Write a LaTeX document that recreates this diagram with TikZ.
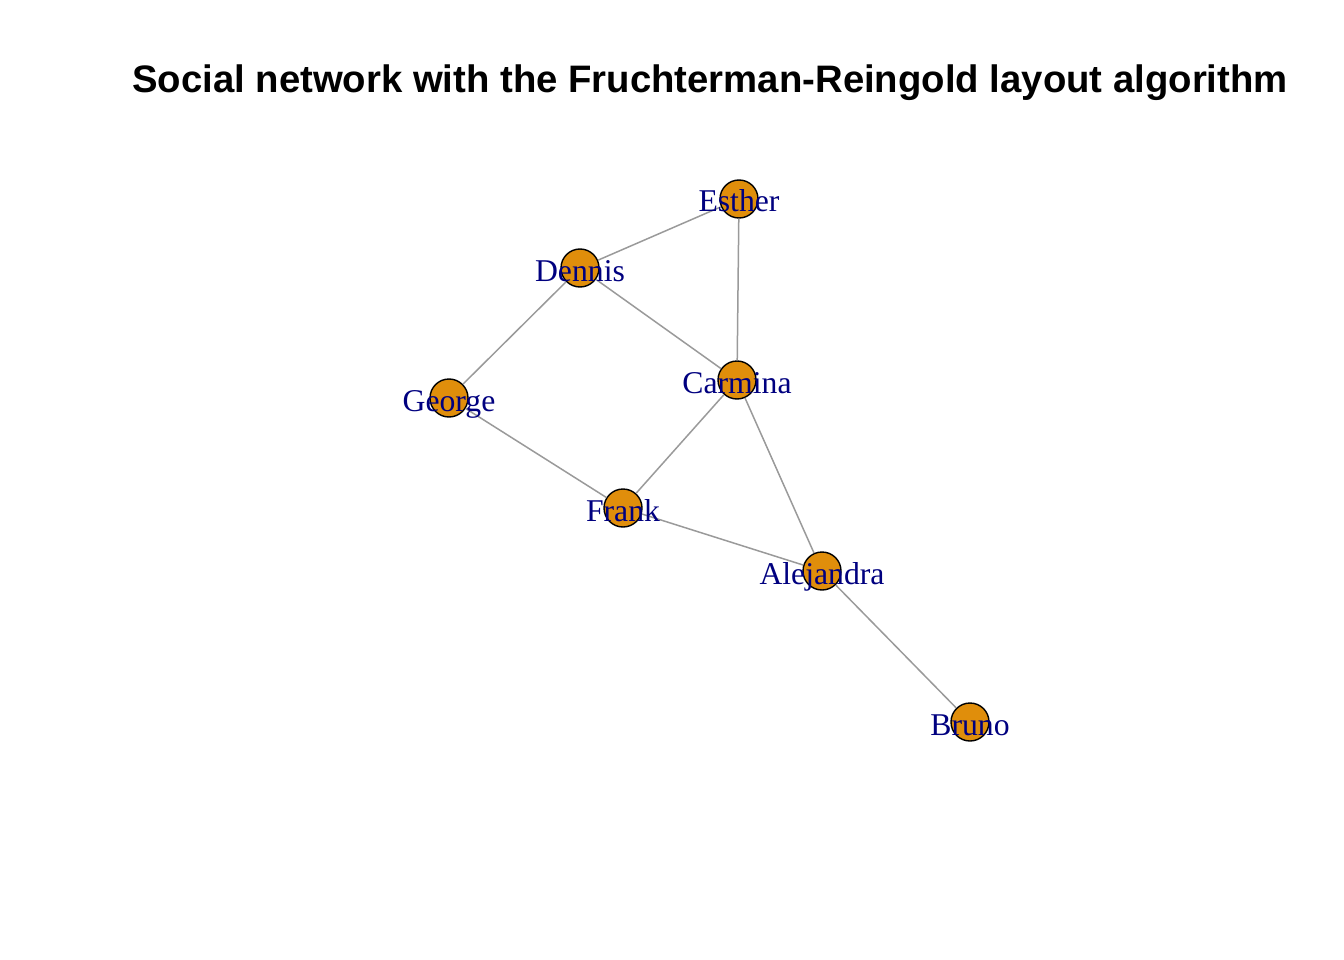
\documentclass[tikz,border=0pt]{standalone}
\usepackage{fontspec}
\setmainfont{Liberation Serif}
\newfontfamily\titlefont{Liberation Sans}
\definecolor{vorange}{HTML}{E08E0B}
\definecolor{edgegray}{HTML}{9A9A9A}
\definecolor{lblnavy}{HTML}{00007F}
\tikzset{
  person/.style={circle,draw=black,line width=1.4pt,fill=vorange,minimum size=38pt,inner sep=0pt},
  tie/.style={draw=edgegray,line width=1.5pt},
  lbl/.style={text=lblnavy,font=\fontsize{31.7}{36}\selectfont,anchor=base,yshift=-13pt,inner sep=0pt}
}
\begin{document}
\begin{tikzpicture}[x=1pt,y=-1pt]
      \path[use as bounding box] (0,0) rectangle (1344,960);
      \node[font=\titlefont\bfseries\fontsize{38.3}{44}\selectfont] at (710,83) (title) {Social network with the Fruchterman-Reingold layout algorithm};
      % vertices
      \node[person] at (739,199) (esther) {};
      \node[person] at (580,268) (dennis) {};
      \node[person] at (449,398) (george) {};
      \node[person] at (737,380) (carmina) {};
      \node[person] at (623,508) (frank) {};
      \node[person] at (822,571) (alejandra) {};
      \node[person] at (970,722) (bruno) {};
      % edges
      \path[tie] (esther) -- (dennis);
      \path[tie] (esther) -- (carmina);
      \path[tie] (dennis) -- (carmina);
      \path[tie] (dennis) -- (george);
      \path[tie] (george) -- (frank);
      \path[tie] (carmina) -- (frank);
      \path[tie] (carmina) -- (alejandra);
      \path[tie] (frank) -- (alejandra);
      \path[tie] (alejandra) -- (bruno);
      % labels
      \node[lbl] at (esther) (esther-l) {Esther};
      \node[lbl] at (dennis) (dennis-l) {Dennis};
      \node[lbl] at (george) (george-l) {George};
      \node[lbl] at (carmina) (carmina-l) {Carmina};
      \node[lbl] at (frank) (frank-l) {Frank};
      \node[lbl] at (alejandra) (alejandra-l) {Alejandra};
      \node[lbl] at (bruno) (bruno-l) {Bruno};
    \end{tikzpicture}
\end{document}
